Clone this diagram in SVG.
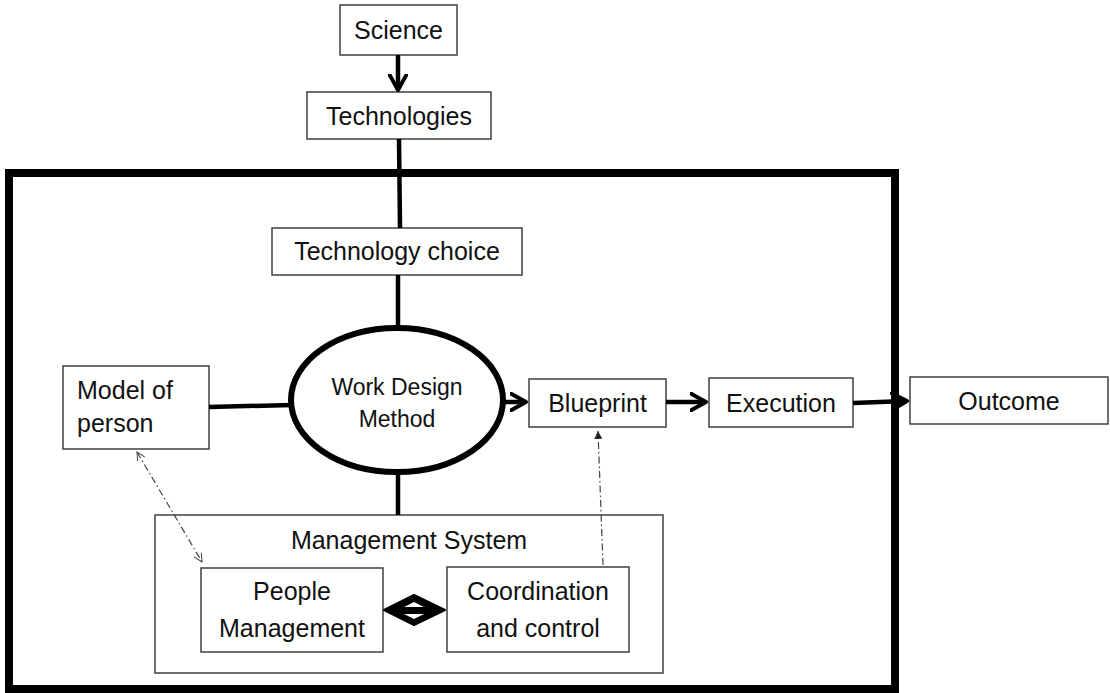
<svg xmlns="http://www.w3.org/2000/svg" width="1110" height="693" viewBox="0 0 1110 693">
<style>
.box{fill:#fff;stroke:#404040;stroke-width:1.5}
.t{font-family:"Liberation Sans",Arial,sans-serif;font-size:25px;fill:#111;text-anchor:middle}
.thick{stroke:#000;stroke-width:4.5;fill:none}
.dd{stroke:#444;stroke-width:1.2;fill:none;stroke-dasharray:7 3 1.5 3}
</style>
<defs>
<marker id="chev" viewBox="0 0 12 12" refX="10" refY="6" markerWidth="4.4" markerHeight="4.4" orient="auto" markerUnits="strokeWidth">
<path d="M1,1 L10,6 L1,11" fill="none" stroke="#000" stroke-width="2.4" stroke-linecap="round" stroke-linejoin="round"/>
</marker>
<marker id="thin" viewBox="0 0 12 12" refX="11" refY="6" markerWidth="10" markerHeight="10" orient="auto-start-reverse" markerUnits="userSpaceOnUse">
<path d="M1,1 L11,6 L1,11" fill="none" stroke="#444" stroke-width="1.2"/>
</marker>
<marker id="tri" viewBox="0 0 10 10" refX="10" refY="5" markerWidth="8" markerHeight="8" orient="auto" markerUnits="userSpaceOnUse">
<path d="M0,0 L10,5 L0,10 Z" fill="#222"/>
</marker>
</defs>
<rect id="frame" x="9" y="173" width="886" height="516" fill="none" stroke="#000" stroke-width="8"/>
<g id="science"><rect class="box" x="340" y="5" width="117" height="50"/><text class="t" x="398.5" y="39">Science</text></g>
<g id="technologies"><rect class="box" x="307" y="92" width="184" height="47"/><text class="t" x="399" y="125">Technologies</text></g>
<g id="technology-choice"><rect class="box" x="272" y="228" width="250" height="47"/><text class="t" x="397" y="260">Technology choice</text></g>
<g id="work-design-method"><ellipse cx="397" cy="400" rx="106" ry="72" fill="#fff" stroke="#000" stroke-width="6"/><text class="t" x="397" y="395" style="font-size:23px">Work Design</text><text class="t" x="397" y="427" style="font-size:23px">Method</text></g>
<g id="model-of-person"><rect class="box" x="63" y="366" width="146" height="83"/><text class="t" x="77" y="399" style="text-anchor:start">Model of</text><text class="t" x="77" y="432" style="text-anchor:start">person</text></g>
<g id="blueprint"><rect class="box" x="529" y="379" width="137" height="48"/><text class="t" x="597.5" y="412">Blueprint</text></g>
<g id="execution"><rect class="box" x="709" y="378" width="144" height="49"/><text class="t" x="781" y="412">Execution</text></g>
<g id="outcome"><rect class="box" x="910" y="377" width="198" height="47"/><text class="t" x="1009" y="410">Outcome</text></g>
<g id="management-system"><rect class="box" x="155" y="515" width="508" height="158"/><text class="t" x="409" y="549">Management System</text></g>
<g id="people-management"><rect class="box" x="201" y="568" width="182" height="84"/><text class="t" x="292" y="600">People</text><text class="t" x="292" y="637">Management</text></g>
<g id="coordination-and-control"><rect class="box" x="447" y="567" width="182" height="85"/><text class="t" x="538" y="600">Coordination</text><text class="t" x="538" y="637">and control</text></g>
<g id="connectors">
<line class="thick" x1="398" y1="55" x2="398" y2="90" marker-end="url(#chev)"/>
<line class="thick" x1="399" y1="139" x2="400" y2="228"/>
<line class="thick" x1="398" y1="275" x2="398" y2="327"/>
<line class="thick" x1="209" y1="407" x2="292" y2="405"/>
<line class="thick" x1="398" y1="472" x2="398" y2="515"/>
<line class="thick" x1="505" y1="402" x2="526" y2="402" marker-end="url(#chev)"/>
<line class="thick" x1="666" y1="402" x2="706" y2="402" marker-end="url(#chev)"/>
<line class="thick" x1="853" y1="403" x2="907" y2="401" marker-end="url(#chev)"/>
<line class="dd" x1="137" y1="452" x2="202" y2="562" marker-start="url(#thin)" marker-end="url(#thin)"/>
<line class="dd" x1="603" y1="565" x2="598" y2="431" marker-end="url(#tri)"/>
<g id="double-arrow">
<path d="M384,610 L414,595 L445,610 L414,625 Z" fill="#000" stroke="#000" stroke-width="2" stroke-linejoin="round"/>
<path d="M404,607 L424,607 L414,602 Z M404,614 L424,614 L414,619 Z" fill="#fff"/>
</g>
</g>
</svg>
